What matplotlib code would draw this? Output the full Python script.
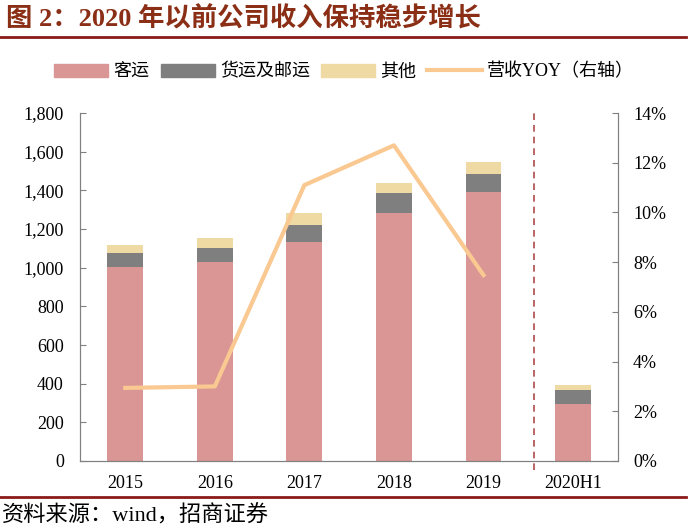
import numpy as np
import matplotlib.pyplot as plt
from matplotlib.patches import Patch
from matplotlib.lines import Line2D

plt.rcParams['font.family'] = ['Liberation Serif', 'Noto Sans CJK SC']

# Data
categories = ["2015", "2016", "2017", "2018", "2019", "2020H1"]
passenger = [1005, 1031, 1131, 1284, 1390, 293]   # 客运
cargo = [69, 69, 90, 101, 93, 74]                 # 货运及邮运
other = [43, 52, 60, 55, 64, 26]                  # 其他
yoy = [2.94, 3.0, 11.1, 12.7, 7.48]               # 营收YOY (%), 2015-2019

c_pass = "#D99694"
c_cargo = "#7F7F7F"
c_other = "#EEDAA2"
c_line = "#FAC891"
c_dark = "#8B1A1A"

fig = plt.figure(figsize=(6.88, 5.32), dpi=100)
ax = fig.add_axes([0.117, 0.1335, 0.781, 0.654])

x = np.arange(len(categories))
w = 0.4
bottom2 = np.array(passenger)
bottom3 = bottom2 + np.array(cargo)
ax.bar(x, passenger, w, color=c_pass, zorder=2)
ax.bar(x, cargo, w, bottom=bottom2, color=c_cargo, zorder=2)
ax.bar(x, other, w, bottom=bottom3, color=c_other, zorder=2)

ax.set_xlim(-0.5, 5.5)
ax.set_ylim(0, 1800)
ax.set_yticks(np.arange(0, 1801, 200))
ax.set_yticklabels([f"{v:,}" for v in range(0, 1801, 200)])
ax.set_xticks(x)
ax.set_xticklabels(categories)
ax.tick_params(axis='x', length=0, pad=10, labelsize=13)
ax.tick_params(axis='y', direction='in', length=4.5, color="#808080",
               labelsize=13, pad=12)
for s in ['left', 'bottom', 'right']:
    ax.spines[s].set_color("#808080")
ax.spines['top'].set_visible(False)

ax2 = ax.twinx()
ax2.plot(x[:5], yoy, color=c_line, lw=3, zorder=3)
ax2.set_ylim(0, 14)
ax2.set_yticks(np.arange(0, 15, 2))
ax2.set_yticklabels([f"{v}%" for v in range(0, 15, 2)])
ax2.tick_params(axis='y', direction='in', length=4.5, color="#808080",
                labelsize=13, pad=11)
for s in ['left', 'bottom', 'right']:
    ax2.spines[s].set_color("#808080")
ax2.spines['top'].set_visible(False)

ax.axvline(4.56, ymin=-0.025, ymax=1, color="#B04A4A", lw=1.2, ls=(0, (4, 3)),
           clip_on=False, zorder=1)

handles = [Patch(color=c_pass), Patch(color=c_cargo), Patch(color=c_other),
           Line2D([0], [0], color=c_line, lw=3)]
labels = ["客运", "货运及邮运", "其他", "营收YOY（右轴）"]
fig.legend(handles, labels, loc='center', bbox_to_anchor=(0.5, 0.865), ncol=4,
           frameon=False, fontsize=13, handlelength=3.0, handleheight=0.7,
           columnspacing=0.6, handletextpad=0.3)

fig.text(0.008, 0.964, "图 2：2020 年以前公司收入保持稳步增长", fontsize=19,
         fontweight='bold', color="#8B2E16", va='center')
fig.add_artist(Line2D([0.0, 0.997], [0.931, 0.931], color=c_dark, lw=2))
fig.add_artist(Line2D([0.0, 0.997], [0.066, 0.066], color=c_dark, lw=2))
fig.text(0.003, 0.031, "资料来源：wind，招商证券", fontsize=16, va='center')

fig.savefig("out.png", dpi=100)
